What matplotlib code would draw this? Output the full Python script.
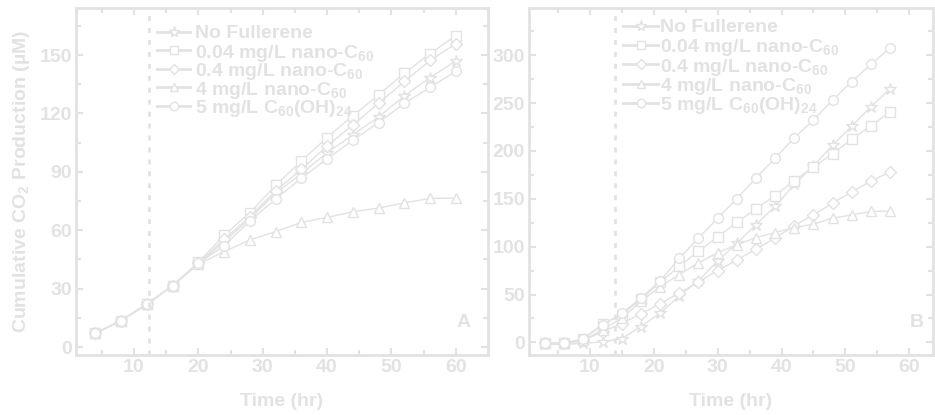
import matplotlib.pyplot as plt
from matplotlib.ticker import MultipleLocator

# colour of everything in the picture (very light grey)
GREY = "#e2e2e2"

plt.rcParams['font.family'] = ['Liberation Sans', 'DejaVu Sans']
plt.rcParams['font.weight'] = 'bold'
plt.rcParams['mathtext.fontset'] = 'custom'
plt.rcParams['mathtext.rm'] = 'Liberation Sans:bold'
plt.rcParams['mathtext.it'] = 'Liberation Sans:bold'
plt.rcParams['mathtext.bf'] = 'Liberation Sans:bold'

labels = [
    "No Fullerene",
    r"0.04 mg/L nano-C$_{60}$",
    r"0.4 mg/L nano-C$_{60}$",
    r"4 mg/L nano-C$_{60}$",
    r"5 mg/L C$_{60}$(OH)$_{24}$",
]
markers = ["*", "s", "D", "^", "o"]

# panel A
time_a = [4, 8, 12, 16, 20, 24, 28, 32, 36, 40, 44, 48, 52, 56, 60]
a_none = [7, 13.6, 22, 31.5, 43, 54, 66, 79, 89, 99.8, 109, 118.2, 129, 138.4, 147]
a_004 = [7, 13.6, 22, 31.5, 43.5, 57.4, 69, 83, 95.5, 107.6, 118.8, 129.5, 140.7, 150.7, 160]
a_04 = [7, 13.6, 22, 31.5, 43, 55.3, 67, 80.3, 91.2, 103.3, 114, 125.2, 136.4, 147.2, 155.8]
a_4 = [7, 13.6, 22, 31.5, 42.5, 49, 55, 59.3, 64, 66.6, 69.5, 71.4, 74, 76.4, 76.5]
a_oh = [7, 13.6, 22, 31.5, 43, 52, 64.8, 76, 86.7, 96.7, 106.2, 115.3, 125.2, 133.4, 141.6]

# panel B
time_b = [3, 6, 9, 12, 15, 18, 21, 24, 27, 30, 33, 36, 39, 42, 45, 48, 51, 54, 57]
b_none = [-2, -2, -1, 0.5, 4, 16.5, 30.5, 48.5, 64.5, 85, 103.5, 123, 142, 165, 184.5, 206, 226, 246.3, 265]
b_004 = [-1, -1, 3.5, 19, 29, 45, 63, 79.3, 95, 110.2, 125.3, 139.6, 153.3, 169, 183.2, 197.2, 212.3, 226.3, 241]
b_04 = [-1, -1, 2, 11.2, 19.7, 29.8, 40.3, 51.6, 63, 75, 86, 97.5, 109, 122, 133.2, 145.6, 157.2, 168.4, 178.2]
b_4 = [-1, -1, 2, 13.3, 25.2, 42.8, 58.2, 70.8, 83.1, 93.7, 102, 109.4, 114.7, 120, 123.5, 129.8, 133.2, 136.8, 137.2]
b_oh = [-1, -1, 4, 18.2, 30.5, 46.3, 64.2, 87.7, 109, 129.6, 150.2, 171.6, 192.4, 213.7, 232.3, 253.3, 272.3, 290.5, 308]

fig = plt.figure(figsize=(9.35, 4.15), dpi=100)
ax_a = fig.add_axes([0.0813, 0.145, 0.4406, 0.835])
ax_b = fig.add_axes([0.5658, 0.145, 0.4321, 0.835])


def marker_size(m):
    return 9 if m == "*" else (6 if m == "D" else 7)


def draw_legend(ax, x0, x1, xt, ytop, step):
    # hand-made legend so the rows sit as tightly as in the original
    for i, (m, lab) in enumerate(zip(markers, labels)):
        y = ytop - i * step
        ax.plot([x0, x1], [y, y], transform=ax.transAxes, color=GREY, lw=2,
                clip_on=False)
        ax.plot([(x0 + x1) / 2], [y], transform=ax.transAxes, marker=m,
                ms=marker_size(m) - 1, mfc="white", mec=GREY, mew=1, clip_on=False)
        ax.text(xt, y, lab, transform=ax.transAxes, color=GREY, fontsize=14,
                fontweight="bold", ha="left", va="center_baseline")


def draw_panel(ax, t, series, xlim, ylim, major_y, minor_y, dash_x, tag, tag_x):
    for y, m in zip(series, markers):
        ax.plot(t, y, color=GREY, lw=1, marker=m, ms=marker_size(m), mfc="white",
                mec=GREY, mew=1)
    ax.axvline(dash_x, color=GREY, lw=2, ls=(0, (1.8, 2.5)))
    ax.set_xlim(*xlim)
    ax.set_ylim(*ylim)
    ax.xaxis.set_major_locator(MultipleLocator(10))
    ax.xaxis.set_minor_locator(MultipleLocator(5))
    ax.yaxis.set_major_locator(MultipleLocator(major_y))
    ax.yaxis.set_minor_locator(MultipleLocator(minor_y))
    ax.tick_params(which="both", direction="in", top=True, right=True,
                   color=GREY, width=1.5, labelcolor=GREY, labelsize=14, pad=3)
    ax.tick_params(which="major", length=5)
    ax.tick_params(which="minor", length=3.5)
    for lab in ax.get_xticklabels() + ax.get_yticklabels():
        lab.set_fontweight("bold")
    for s in ax.spines.values():
        s.set_color(GREY)
        s.set_linewidth(2)
    ax.set_xlabel("Time (hr)", color=GREY, fontsize=14, fontweight="bold", labelpad=12)
    ax.text(tag_x, 0.07, tag, transform=ax.transAxes, ha="right", va="bottom",
            color=GREY, fontsize=14, fontweight="bold")


draw_panel(ax_a, time_a, [a_none, a_004, a_04, a_4, a_oh], (1, 65), (-4, 174),
           30, 15, 12.3, "A", 0.958)
draw_panel(ax_b, time_b, [b_none, b_004, b_04, b_4, b_oh], (0.5, 63.7), (-13, 349),
           50, 25, 13.9, "B", 0.978)

draw_legend(ax_a, 0.197, 0.277, 0.289, 0.933, 0.0534)
draw_legend(ax_b, 0.232, 0.320, 0.324, 0.950, 0.0557)

ax_a.set_ylabel(r"Cumulative CO$_2$ Production (µM)", color=GREY, fontsize=14,
                fontweight="bold", labelpad=5)

fig.savefig("out.png", dpi=100)
